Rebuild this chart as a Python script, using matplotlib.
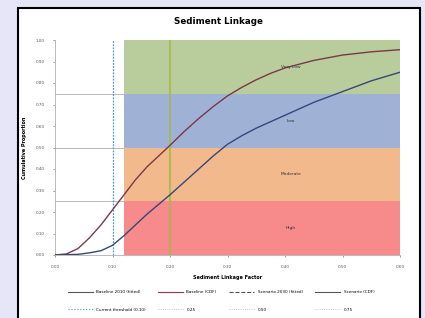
import matplotlib
matplotlib.use('Agg')
import matplotlib.pyplot as plt
from matplotlib.patches import Rectangle
from matplotlib.lines import Line2D

# cumulative curves
x_upper = [0.00, 0.02, 0.04, 0.06, 0.08, 0.10, 0.12, 0.14, 0.16, 0.18, 0.20,
           0.225, 0.25, 0.275, 0.30, 0.325, 0.35, 0.375, 0.40, 0.45, 0.50,
           0.55, 0.60]
y_upper = [0.00, 0.005, 0.03, 0.08, 0.14, 0.21, 0.28, 0.35, 0.41, 0.46, 0.51,
           0.575, 0.635, 0.69, 0.74, 0.78, 0.815, 0.845, 0.87, 0.905, 0.93,
           0.945, 0.955]
x_lower = [0.00, 0.04, 0.06, 0.08, 0.10, 0.12, 0.14, 0.16, 0.18, 0.20,
           0.225, 0.25, 0.275, 0.30, 0.325, 0.35, 0.40, 0.45, 0.50, 0.55,
           0.60]
y_lower = [0.00, 0.003, 0.01, 0.02, 0.045, 0.09, 0.14, 0.19, 0.235, 0.28,
           0.34, 0.40, 0.46, 0.515, 0.555, 0.59, 0.65, 0.71, 0.76, 0.81,
           0.85]

band_names = ['High', 'Moderate', 'Low', 'Very Low']
band_edges = [0.0, 0.25, 0.50, 0.75, 1.0]
band_colors = ['#f78a8a', '#f2ba8c', '#9fb2d6', '#b9cc9c']
band_start = 0.12
quartiles = [0.25, 0.50, 0.75]
threshold_x = 0.10
marker_x = 0.20

x_ticks = [0.0, 0.1, 0.2, 0.3, 0.4, 0.5, 0.6]
y_ticks = [0.0, 0.1, 0.2, 0.3, 0.4, 0.5, 0.6, 0.7, 0.8, 0.9, 1.0]

fig = plt.figure(figsize=(4.25, 3.18), dpi=100, facecolor='#e6e6f8')
# white chart panel with black frame
fig.patches.append(Rectangle((18 / 425, -0.01), 402 / 425, 1 - 8 / 318 + 0.01,
                             transform=fig.transFigure, facecolor='white',
                             edgecolor='black', linewidth=1.5, zorder=-10))

ax = fig.add_axes([55 / 425, 1 - 255 / 318, 345 / 425, 215 / 318])
ax.set_facecolor('none')

for q in quartiles:
    ax.axhline(q, color='#b0b0b0', lw=0.6, zorder=1)

for i, name in enumerate(band_names):
    ax.fill_between([band_start, 0.6], band_edges[i], band_edges[i + 1],
                    color=band_colors[i], lw=0, zorder=2)
    ax.text(0.41, (band_edges[i] + band_edges[i + 1]) / 2, name,
            fontsize=3.2, color='#333333', ha='center', va='center', zorder=5)

ax.axvline(threshold_x, color='#4a9cc8', lw=0.9, ls=(0, (1.5, 1)), zorder=3)
ax.axvline(marker_x, color='#a4b84a', lw=1.5, alpha=0.8, zorder=3)

ax.plot(x_upper, y_upper, color='#7a3848', lw=1.0, zorder=4)
ax.plot(x_lower, y_lower, color='#34487a', lw=1.0, zorder=4)

ax.set_xlim(0, 0.6)
ax.set_ylim(0, 1.0)
ax.set_xticks(x_ticks)
ax.set_xticklabels([f'{v:.2f}' for v in x_ticks])
ax.set_yticks(y_ticks)
ax.set_yticklabels([f'{v:.2f}' for v in y_ticks])
ax.tick_params(labelsize=3, length=1.5, width=0.4, colors='#555555', pad=6)
for s in ['top', 'right']:
    ax.spines[s].set_visible(False)
for s in ['left', 'bottom']:
    ax.spines[s].set_color('#b0b0b0')
    ax.spines[s].set_linewidth(0.6)

ax.set_xlabel('Sediment Linkage Factor', fontsize=3.5, fontweight='bold',
              labelpad=4)
ax.set_ylabel('Cumulative Proportion', fontsize=3.5, fontweight='bold',
              labelpad=6)
fig.text(0.515, 1 - 22 / 318, 'Sediment Linkage', fontsize=6.3,
         fontweight='bold', ha='center', va='center')

handles = [
    Line2D([], [], color='#555555', lw=0.8),
    Line2D([], [], color='#b03040', lw=0.8),
    Line2D([], [], color='#555555', lw=0.8, ls='--'),
    Line2D([], [], color='#555555', lw=0.8),
    Line2D([], [], color='#4a9cc8', lw=0.8, ls=':'),
    Line2D([], [], color='#b0b0b0', lw=0.6, ls=':'),
    Line2D([], [], color='#b0b0b0', lw=0.6, ls=':'),
    Line2D([], [], color='#b0b0b0', lw=0.6, ls=':'),
]
labels = ['Baseline 2010 (fitted)', 'Baseline (CDF)',
          'Scenario 2030 (fitted)', 'Scenario (CDF)',
          'Current threshold (0.10)', '0.25', '0.50', '0.75']
# legend fills column-wise, so reorder to get rows
order = [0, 4, 1, 5, 2, 6, 3, 7]
fig.legend([handles[i] for i in order], [labels[i] for i in order],
           ncol=4, loc='center', bbox_to_anchor=(0.52, 1 - 301 / 318),
           fontsize=3, frameon=False, handlelength=6, columnspacing=3,
           labelspacing=3.2)

fig.savefig('out.png', dpi=100, facecolor=fig.get_facecolor())
